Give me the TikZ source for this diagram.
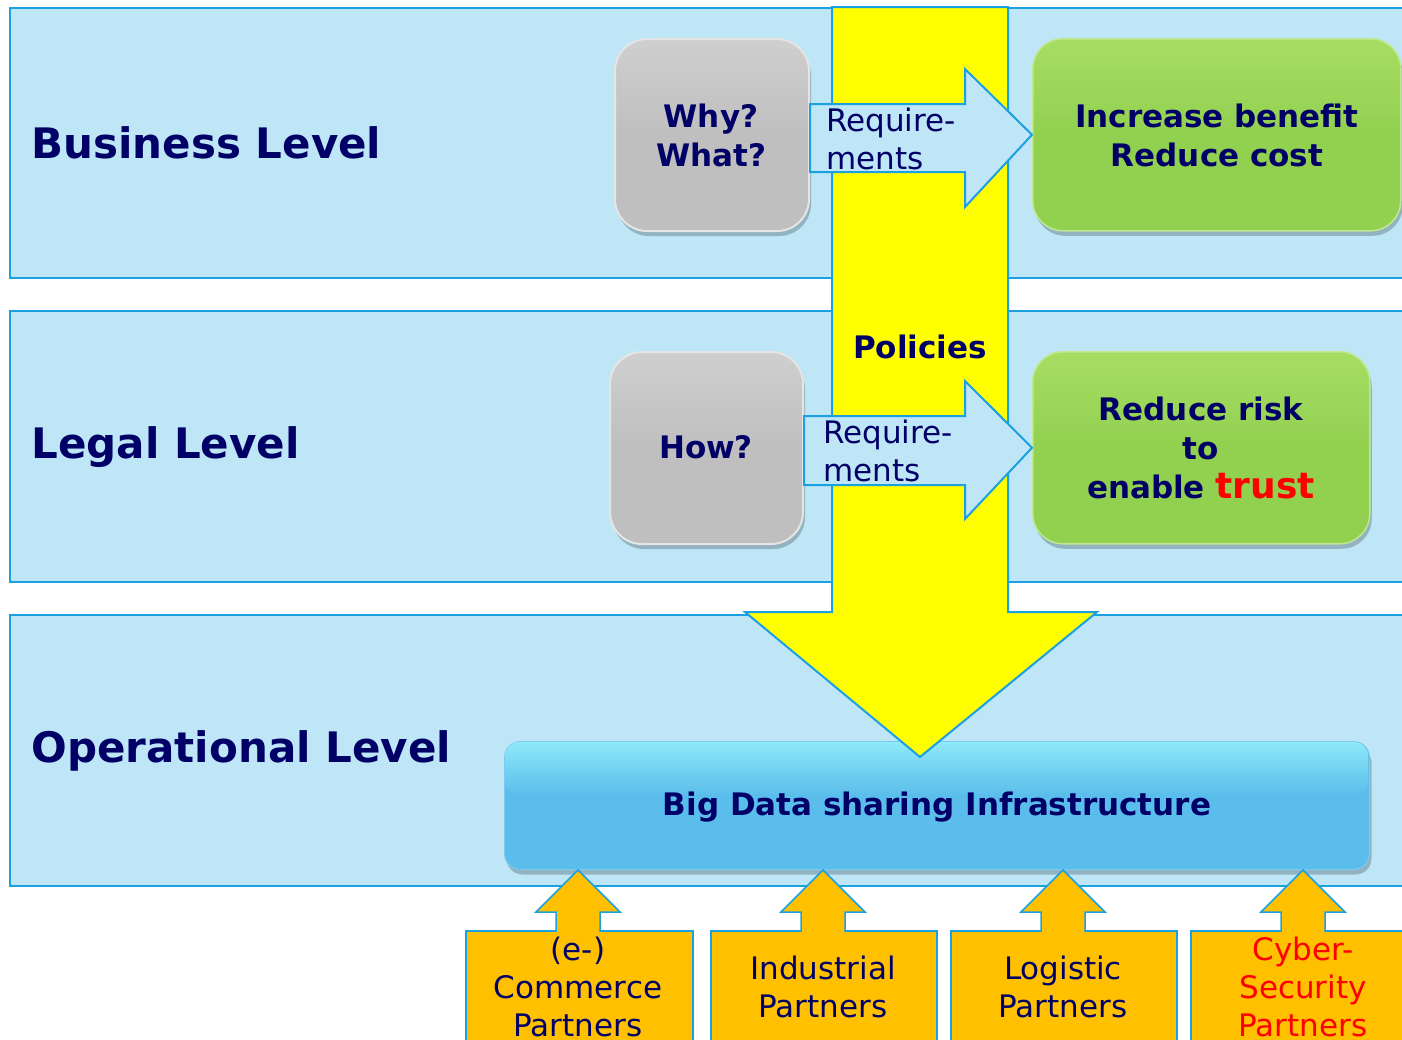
\documentclass[tikz,border=0pt]{standalone}
\usepackage{fontspec}
\setmainfont{DejaVu Sans}
\usetikzlibrary{shadows}
\definecolor{bandfill}{HTML}{BEE6F7}
\definecolor{edgeblue}{HTML}{1BA1E2}
\definecolor{navy}{HTML}{000066}
\definecolor{ylw}{HTML}{FFFF00}
\definecolor{grn}{HTML}{92D050}
\definecolor{grnlight}{HTML}{A6DE62}
\definecolor{org}{HTML}{FFC000}
\definecolor{bdc}{HTML}{5BBDEB}
\definecolor{bdclight}{HTML}{8EE9F8}
\definecolor{graybox}{HTML}{BFBFBF}
\definecolor{graylight}{HTML}{CFCFCF}
\begin{document}
\begin{tikzpicture}[x=1pt,y=-1pt,
  band/.style={draw=edgeblue, line width=2pt, fill=bandfill, anchor=north west, inner sep=0pt},
  levellabel/.style={anchor=west, text=navy, font=\bfseries\fontsize{42}{50}\selectfont},
  greybox/.style={rounded corners=32pt, top color=graylight, bottom color=graybox, middle color=graybox,
     draw=white!80!gray, line width=2pt, anchor=north west, inner sep=0pt,
     drop shadow={shadow xshift=2pt, shadow yshift=-5pt, opacity=0.22, fill=black}},
  greenbox/.style={rounded corners=30pt, top color=grnlight, bottom color=grn, middle color=grn,
     draw=grnlight!70!white, line width=1.5pt, anchor=north west, inner sep=0pt,
     drop shadow={shadow xshift=2pt, shadow yshift=-5pt, opacity=0.22, fill=black}},
  boldtext/.style={text=navy, align=center, font=\bfseries\fontsize{31}{39}\selectfont},
  reqtext/.style={text=navy, align=left, anchor=west, inner sep=0pt, font=\fontsize{31}{38}\selectfont},
  reqarrow/.style={draw=edgeblue, line width=2pt, fill=bandfill, line join=miter},
  partner/.style={draw=edgeblue, line width=1.5pt, fill=org, anchor=north west, inner sep=0pt,
     minimum height=150pt},
  ptext/.style={align=center, font=\fontsize{31}{38}\selectfont},
  parrow/.style={draw=edgeblue, line width=1.5pt, fill=org}
]
\useasboundingbox (0,0) rectangle (1402,1039);

% level bands
\node[band, minimum width=1420pt, minimum height=270pt] (business) at (9,7) {};
\node[band, minimum width=1420pt, minimum height=271pt] (legal) at (9,310) {};
\node[band, minimum width=1420pt, minimum height=271pt] (operational) at (9,614) {};

\node[levellabel] (businesslbl) at (28,143) {Business Level};
\node[levellabel] (legallbl) at (28,447) {Legal Level};
\node[levellabel] (operationallbl) at (28,751) {Operational Level};

% big data infrastructure
\node[rounded corners=16pt, fill=bdc, draw=bdc!80!white, line width=1pt, anchor=north west, inner sep=0pt,
      minimum width=865pt, minimum height=128pt,
      drop shadow={shadow xshift=2pt, shadow yshift=-5pt, opacity=0.22, fill=black}] (bigdata) at (504,741) {};
\shade[top color=bdclight, bottom color=bdc, rounded corners=14pt]
  (505,742) rectangle (1368,795);
\node[boldtext] (bigdatatxt) at (937,807) {Big Data sharing Infrastructure};

% yellow policies arrow
\coordinate (ya) at (832,7);
\coordinate (yb) at (1008,7);
\coordinate (yc) at (1008,612);
\coordinate (yd) at (1097,612);
\coordinate (ytip) at (920,757);
\coordinate (ye) at (745,612);
\coordinate (yf) at (832,612);
\draw[edgeblue, line width=2pt, fill=ylw, line join=miter]
  (ya) -- (yb) -- (yc) -- (yd) -- (ytip) -- (ye) -- (yf) -- cycle;
\node[boldtext] (policies) at (920,347) {Policies};

% grey boxes
\node[greybox, minimum width=194pt, minimum height=192pt] (why) at (614,38) {};
\node[boldtext] (whytxt) at (711,135) {Why?\\What?};
\node[greybox, minimum width=193pt, minimum height=192pt] (how) at (609,351) {};
\node[boldtext] (howtxt) at (706,447) {How?};

% green boxes
\node[greenbox, minimum width=368pt, minimum height=192pt] (benefit) at (1032,38) {};
\node[boldtext] (benefittxt) at (1217,135) {Increase benefit\\Reduce cost};
\node[greenbox, minimum width=337pt, minimum height=192pt] (risk) at (1032,351) {};
\node[boldtext] (risktxt) at (1201,448) {Reduce risk\\to\\enable {\color{red}\fontsize{36}{40}\selectfont trust}};

% requirement arrows
\draw[reqarrow] (why.east |- 0,104) -- (965,104) -- (965,69) -- (benefit.west) -- (965,207) -- (965,172) -- (why.east |- 0,172) -- cycle;
\node[reqtext] (req1) at (826,139) {Require-\\ments};
\draw[reqarrow] (how.east |- 0,416) -- (965,416) -- (965,381) -- (risk.west) -- (965,519) -- (965,485) -- (how.east |- 0,485) -- cycle;
\node[reqtext] (req2) at (823,451) {Require-\\ments};

% partner boxes
\node[partner, minimum width=227pt] (p1) at (465,930) {};
\node[partner, minimum width=226pt] (p2) at (710,930) {};
\node[partner, minimum width=226pt] (p3) at (950,930) {};
\node[partner, minimum width=226pt] (p4) at (1190,930) {};

\foreach \cx/\nm in {578/p1,823/p2,1063/p3,1303/p4}{
  \draw[parrow, line join=miter] (\cx-22,931) -- (\cx-22,912) -- (\cx-42,912) -- (\cx,870)
     -- (\cx+42,912) -- (\cx+22,912) -- (\cx+22,931);
  \fill[org] (\cx-21.2,911) rectangle (\cx+21.2,932);
}

\node[ptext, text=navy] (p1txt) at (578,987) {(e-)\\Commerce\\Partners};
\node[ptext, text=navy] (p2txt) at (823,987) {Industrial\\Partners};
\node[ptext, text=navy] (p3txt) at (1063,987) {Logistic\\Partners};
\node[ptext, text=red] (p4txt) at (1303,987) {Cyber-\\Security\\Partners};
\end{tikzpicture}
\end{document}
